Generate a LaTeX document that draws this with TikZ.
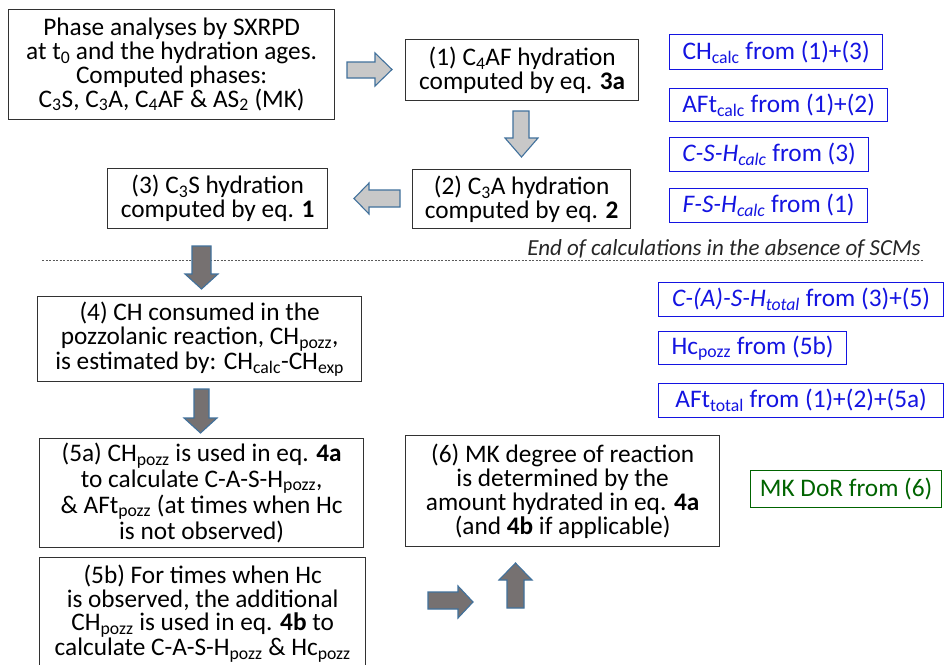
\documentclass[tikz,border=0pt]{standalone}
\usepackage{fontspec}
\setmainfont{Carlito}
\definecolor{boxgray}{RGB}{50,50,50}
\definecolor{myblue}{RGB}{20,20,225}
\definecolor{mygreen}{RGB}{0,100,0}
\definecolor{arrline}{RGB}{65,113,156}
\definecolor{lightfill}{RGB}{200,200,200}
\definecolor{darkfill}{RGB}{118,113,113}
\definecolor{dashgray}{RGB}{90,90,90}
\newcommand{\sbs}[1]{\textsubscript{#1}}
\tikzset{
  bbox/.style={draw=boxgray, line width=1.3pt, inner sep=0pt, align=center, anchor=north west,
    font=\fontsize{25.3}{23.8}\selectfont},
  cbox/.style={draw=myblue, text=myblue, line width=1.3pt, inner sep=0pt, align=center, anchor=north west,
    font=\fontsize{25.3}{23.8}\selectfont},
  gbox/.style={cbox, draw=mygreen, text=mygreen},
  larr/.style={draw=arrline, fill=lightfill, line width=1.1pt, line join=miter},
  darr/.style={draw=arrline, fill=darkfill, line width=1.1pt, line join=miter},
}
\begin{document}
\begin{tikzpicture}[x=1pt,y=-1pt]
\useasboundingbox (0,0) rectangle (945,664);
\clip (0,0) rectangle (945,664);
\fill[white] (0,0) rectangle (945,664);

% main boxes
\node[bbox, minimum width=326, minimum height=110] (A) at (8,9)
  {Phase analyses by SXRPD\\ at t\sbs{0} and the hydration ages.\\ Computed phases:\\ C\sbs{3}S, C\sbs{3}A, C\sbs{4}AF \& AS\sbs{2} (MK)};
\node[bbox, minimum width=233, minimum height=61] (s1) at (405,39)
  {(1) C\sbs{4}AF hydration\\ computed by eq. \textbf{3a}};
\node[bbox, minimum width=218, minimum height=59] (s2) at (412,169)
  {(2) C\sbs{3}A hydration\\ computed by eq. \textbf{2}};
\node[bbox, minimum width=220, minimum height=60] (s3) at (107,168)
  {(3) C\sbs{3}S hydration\\ computed by eq. \textbf{1}};
\node[bbox, minimum width=324, minimum height=85] (s4) at (37,296)
  {(4) CH consumed in the\\ pozzolanic reaction, CH\sbs{pozz},\\ is estimated by: CH\sbs{calc}-CH\sbs{exp}};
\node[bbox, minimum width=324, minimum height=109] (s5a) at (39,438)
  {(5a) CH\sbs{pozz} is used in eq. \textbf{4a}\\ to calculate C-A-S-H\sbs{pozz},\\ \& AFt\sbs{pozz} (at times when Hc\\ is not observed)};
\node[bbox, minimum width=326, minimum height=112] (s5b) at (39,557)
  {(5b) For times when Hc\\ is observed, the additional\\ CH\sbs{pozz} is used in eq. \textbf{4b} to\\ calculate C-A-S-H\sbs{pozz} \& Hc\sbs{pozz}};
\node[bbox, minimum width=314, minimum height=111] (s6) at (405,435)
  {(6) MK degree of reaction\\ is determined by the\\ amount hydrated in eq. \textbf{4a}\\ (and \textbf{4b} if applicable)};

% result boxes
\node[cbox, minimum width=213, minimum height=35] (r1) at (669,34) {CH\sbs{calc} from (1)+(3)};
\node[cbox, minimum width=218, minimum height=33] (r2) at (669,88) {AFt\sbs{calc} from (1)+(2)};
\node[cbox, minimum width=199, minimum height=34] (r3) at (669,137) {\textit{C-S-H\sbs{calc}} from (3)};
\node[cbox, minimum width=198, minimum height=34] (r4) at (669,188) {\textit{F-S-H\sbs{calc}} from (1)};
\node[cbox, minimum width=285, minimum height=34] (r5) at (658,282) {\textit{C-(A)-S-H\sbs{total}} from (3)+(5)};
\node[cbox, minimum width=188, minimum height=33] (r6) at (658,331) {Hc\sbs{pozz} from (5b)};
\node[cbox, minimum width=285, minimum height=34] (r7) at (658,383) {AFt\sbs{total} from (1)+(2)+(5a)};
\node[gbox, minimum width=191, minimum height=37] (r8) at (750,470) {MK DoR from (6)};

% separator
\draw[dashgray, line width=0.8pt, dash pattern=on 2pt off 1.5pt] (42,260) -- (923,260);
\node[anchor=base east, inner sep=0pt, font=\fontsize{23}{25}\selectfont\itshape, text=black!85] (endnote) at (921,255)
  {End of calculations in the absence of SCMs};

% light block arrows
\draw[larr] (347,62) -- (375,62) -- (375,53) -- (392,69.5) -- (375,86) -- (375,78) -- (347,78) -- cycle;
\draw[larr] (513,111) -- (529,111) -- (529,138) -- (538,138) -- (521.5,157) -- (505,138) -- (513,138) -- cycle;
\draw[larr] (400,190) -- (369,190) -- (369,183) -- (354,198.5) -- (369,214) -- (369,207) -- (400,207) -- cycle;

% dark block arrows
\draw[darr] (192,246) -- (211,246) -- (211,274) -- (218,274) -- (201.5,289) -- (185,274) -- (192,274) -- cycle;
\draw[darr] (194,389) -- (209,389) -- (209,418) -- (217,418) -- (200.5,433) -- (184,418) -- (194,418) -- cycle;
\draw[darr] (428,592) -- (458,592) -- (458,586) -- (473,602) -- (458,618) -- (458,609) -- (428,609) -- cycle;
\draw[darr] (507,608) -- (507,580) -- (499,580) -- (515.5,563) -- (532,580) -- (524,580) -- (524,608) -- cycle;
\end{tikzpicture}
\end{document}
